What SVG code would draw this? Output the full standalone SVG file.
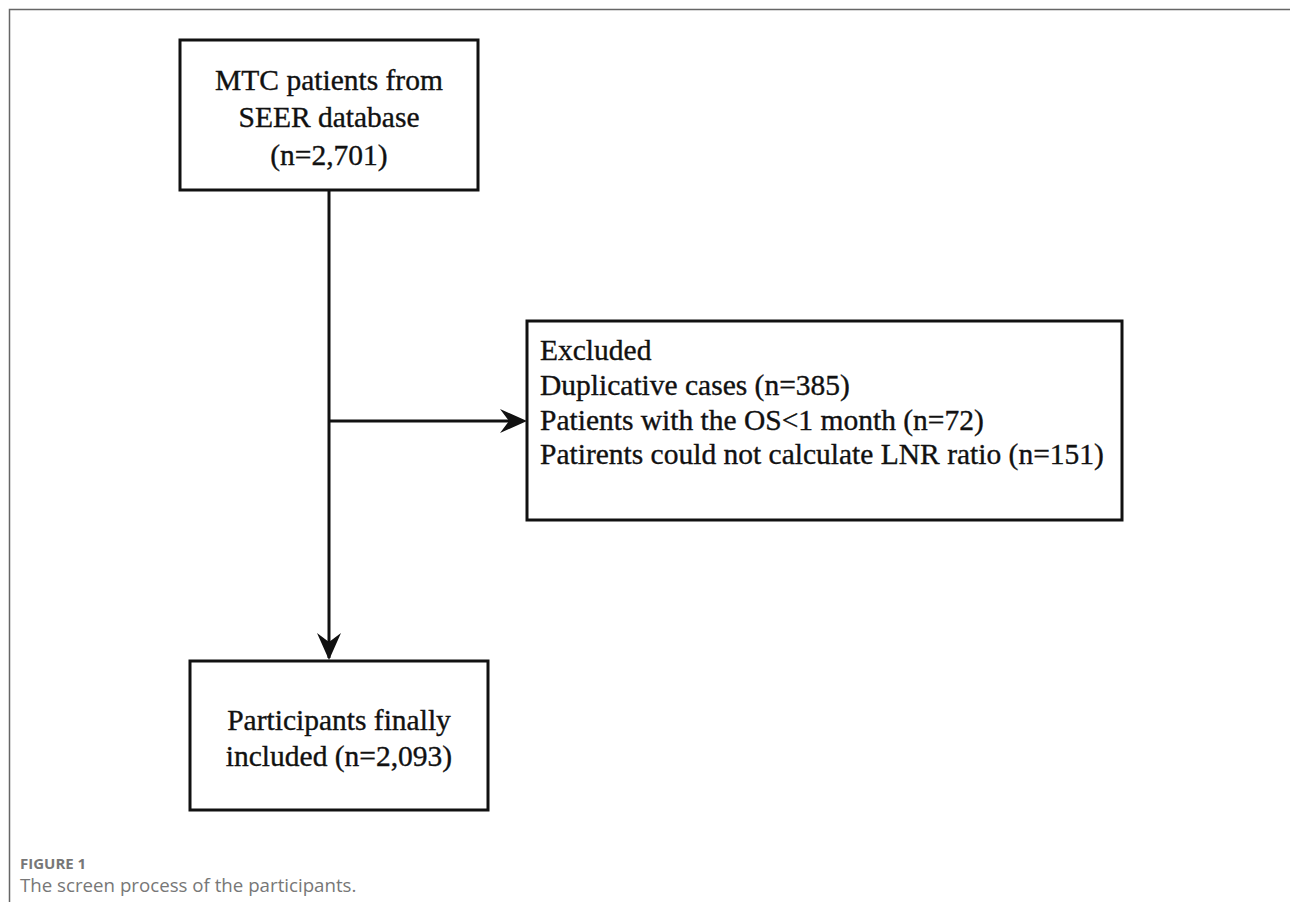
<svg xmlns="http://www.w3.org/2000/svg" width="1290" height="902" viewBox="0 0 1290 902">
<style>
.box{fill:#fff;stroke:#111;stroke-width:3}
.t{font-family:"Liberation Serif","Times New Roman",serif;font-size:29.5px;fill:#111;stroke:#111;stroke-width:0.35}
.c{text-anchor:middle}
.line{stroke:#111;stroke-width:3;fill:none}
.cap1{font-family:"Open Sans","Noto Sans",sans-serif;font-size:15px;font-weight:bold;fill:#777}
.cap2{font-family:"Open Sans","Noto Sans",sans-serif;font-size:18.7px;fill:#777}
</style>
<rect width="1290" height="902" fill="#fff"/>
<path d="M9.5,902 V9.5 H1290" fill="none" stroke="#666" stroke-width="1.5"/>
<g id="connectors">
<line class="line" x1="329" y1="191" x2="329" y2="658"/>
<path d="M317,633 L329,660 L341,633 L329,642 Z" fill="#111"/>
<line class="line" x1="329" y1="421" x2="520" y2="421"/>
<path d="M500,409 L527,421 L500,433 L509,421 Z" fill="#111"/>
</g>
<g id="source">
<rect class="box" x="180" y="40" width="298" height="150"/>
<text class="t c" x="329" y="90">MTC patients from</text>
<text class="t c" x="329" y="127">SEER database</text>
<text class="t c" x="329" y="165">(n=2,701)</text>
</g>
<g id="excluded">
<rect class="box" x="527" y="321" width="595" height="199"/>
<text class="t" x="540" y="360">Excluded</text>
<text class="t" x="540" y="395">Duplicative cases (n=385)</text>
<text class="t" x="540" y="430">Patients with the OS&lt;1 month (n=72)</text>
<text class="t" x="540" y="464">Patirents could not calculate LNR ratio (n=151)</text>
</g>
<g id="included">
<rect class="box" x="190" y="661" width="298" height="149"/>
<text class="t c" x="339" y="730">Participants finally</text>
<text class="t c" x="339" y="766">included (n=2,093)</text>
</g>
<text class="cap1" x="20" y="869">FIGURE 1</text>
<text class="cap2" x="20" y="892">The screen process of the participants.</text>
</svg>
